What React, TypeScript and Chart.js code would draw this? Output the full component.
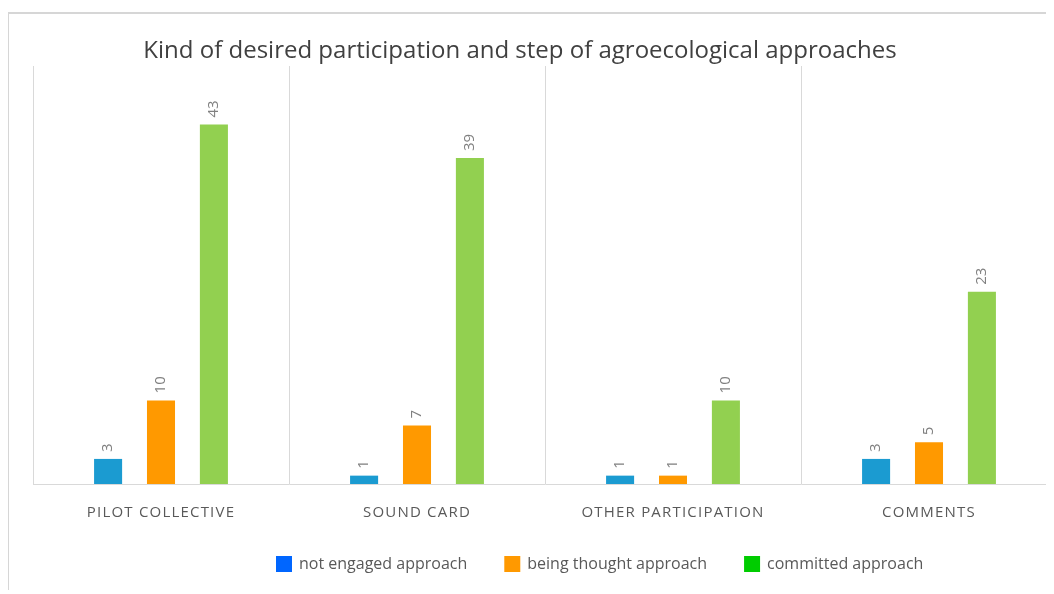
import React, { useEffect, useRef } from "react";
import { Chart, registerables } from "chart.js";

Chart.register(...registerables);

const categories = ["PILOT COLLECTIVE", "SOUND CARD", "OTHER PARTICIPATION", "COMMENTS"];
const seriesNames = ["not engaged approach", "being thought approach", "committed approach"];
const notEngaged = [3, 1, 1, 3];
const beingThought = [10, 7, 1, 5];
const committed = [43, 39, 10, 23];
const barColors = ["#1b9bd1", "#ff9900", "#92d050"];
const legendColors = ["#0066ff", "#ff9900", "#00cc00"];
const titleText = "Kind of desired participation and step of agroecological approaches";
const yMax = 50;

const FONT = "'Open Sans', 'Noto Sans', sans-serif";

const borderPlugin = {
  id: "frameBorder",
  beforeDraw(chart: any) {
    const ctx = chart.ctx;
    ctx.save();
    ctx.strokeStyle = "#d6d6d6";
    ctx.lineWidth = 2;
    ctx.beginPath();
    ctx.moveTo(1, chart.height);
    ctx.lineTo(1, 1);
    ctx.lineTo(chart.width, 1);
    ctx.stroke();
    ctx.restore();
    // spaced category labels
    (ctx as any).letterSpacing = "1.2px";
  },
  beforeDatasetsDraw(chart: any) {
    (chart.ctx as any).letterSpacing = "0px";
  },
};

const dataLabelPlugin = {
  id: "rotatedLabels",
  afterDatasetsDraw(chart: any) {
    const ctx = chart.ctx;
    ctx.save();
    ctx.font = `15px ${FONT}`;
    ctx.fillStyle = "#808080";
    ctx.textAlign = "left";
    ctx.textBaseline = "middle";
    chart.data.datasets.forEach((ds: any, di: number) => {
      const meta = chart.getDatasetMeta(di);
      meta.data.forEach((bar: any, i: number) => {
        ctx.save();
        ctx.translate(bar.x, bar.y - 7);
        ctx.rotate(-Math.PI / 2);
        ctx.fillText(String(ds.data[i]), 0, 0);
        ctx.restore();
      });
    });
    ctx.restore();
  },
};

const titleLegendPlugin = {
  id: "titleLegend",
  afterDraw(chart: any) {
    const ctx = chart.ctx;
    ctx.save();
    (ctx as any).letterSpacing = "0px";
    // title
    ctx.font = `24px ${FONT}`;
    ctx.fillStyle = "#404040";
    ctx.textAlign = "center";
    ctx.textBaseline = "middle";
    ctx.fillText(titleText, 513, 39.5);
    // legend
    ctx.font = `16px ${FONT}`;
    ctx.textAlign = "left";
    let x = 269;
    const yc = 552;
    chart.data.datasets.forEach((ds: any, i: number) => {
      ctx.fillStyle = legendColors[i];
      ctx.fillRect(x, yc - 8, 16, 16);
      ctx.fillStyle = "#595959";
      ctx.fillText(ds.label, x + 23, yc);
      x += 23 + ctx.measureText(ds.label).width + 37;
    });
    ctx.restore();
  },
};

export default function App() {
  const ref = useRef<HTMLCanvasElement>(null);
  useEffect(() => {
    if (!ref.current) return;
    const seriesValues = [notEngaged, beingThought, committed];
    const chart = new Chart(ref.current, {
      type: "bar",
      data: {
        labels: categories,
        datasets: seriesNames.map((name, i) => ({
          label: name,
          data: seriesValues[i],
          backgroundColor: barColors[i],
          categoryPercentage: 0.62,
          barPercentage: 0.53,
        })),
      },
      options: {
        responsive: false,
        animation: false,
        layout: { padding: { top: 54, left: 26, right: 10, bottom: 0 } },
        plugins: {
          legend: { display: false },
          title: { display: false },
          tooltip: { enabled: false },
        },
        scales: {
          x: {
            grid: { display: true, color: "#d9d9d9", lineWidth: 1, drawTicks: false, offset: true },
            border: { display: true, color: "#d9d9d9", width: 1 },
            ticks: {
              color: "#595959",
              font: { family: FONT, size: 15 },
              padding: 20,
              maxRotation: 0,
              autoSkip: false,
            },
            afterFit: (scale: any) => {
              scale.height = 110;
            },
          },
          y: {
            display: false,
            min: 0,
            max: yMax,
          },
        },
      },
      plugins: [borderPlugin, dataLabelPlugin, titleLegendPlugin],
    });
    return () => chart.destroy();
  }, []);
  return (
    <div style={{ position: "relative", top: 4, left: -1, width: 1047, height: 582, overflow: "hidden" }}>
      <canvas ref={ref} width={1060} height={582} style={{ display: "block" }} />
    </div>
  );
}
